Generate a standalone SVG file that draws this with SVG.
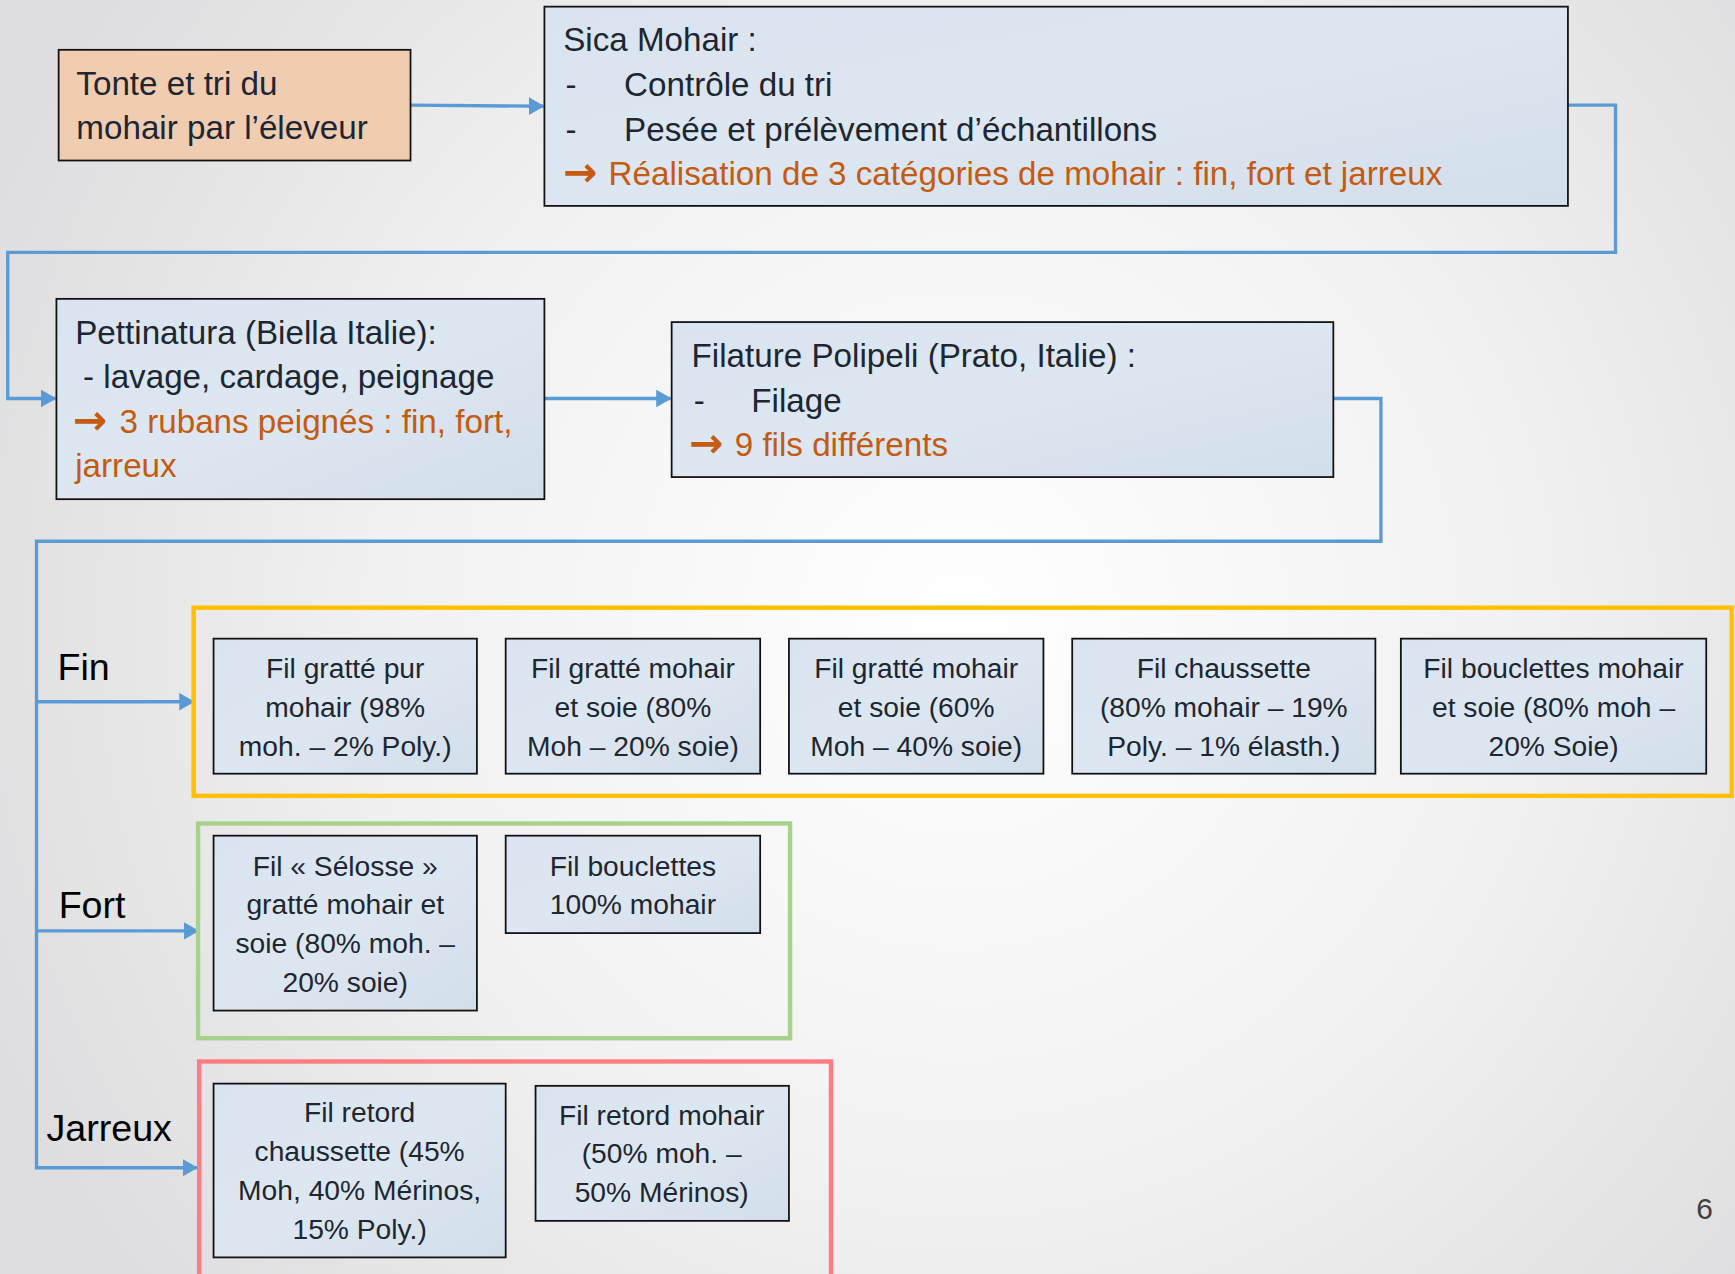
<svg xmlns="http://www.w3.org/2000/svg" width="1735" height="1274" viewBox="0 0 1735 1274">
<defs>
<radialGradient id="bg" gradientUnits="userSpaceOnUse" cx="960" cy="620" r="1050">
<stop offset="0" stop-color="#ffffff"/>
<stop offset="0.55" stop-color="#f1f1f1"/>
<stop offset="1" stop-color="#dedddf"/>
</radialGradient>
<linearGradient id="boxfill" x1="0" y1="0" x2="1" y2="1">
<stop offset="0" stop-color="#dae4f0"/>
<stop offset="0.5" stop-color="#dde7f2"/>
<stop offset="1" stop-color="#d2deea"/>
</linearGradient>
<marker id="ah" markerUnits="userSpaceOnUse" markerWidth="14" markerHeight="16" refX="13" refY="8" orient="auto">
<path d="M0,0 L14,8 L0,16 z" fill="#5b9bd5"/>
</marker>
</defs>
<style>
.box{fill:url(#boxfill);stroke:#111;stroke-width:1.6}
.peach{fill:#f0cdb1;stroke:#111;stroke-width:1.6}
.t{font-family:"Liberation Sans",Arial,sans-serif;font-size:30px;fill:#1e2631}
.o{font-family:"Liberation Sans",Arial,sans-serif;font-size:30px;fill:#c55a11}
.arr{font-family:"DejaVu Sans",sans-serif;font-weight:bold;font-size:37px;fill:#c55a11}
.s{font-family:"Liberation Sans",Arial,sans-serif;font-size:25.5px;fill:#1e2631;text-anchor:middle}
.lab{font-family:"Liberation Sans",Arial,sans-serif;font-size:34px;fill:#000}
.con{fill:none;stroke:#5b9bd5;stroke-width:3}
.frame{fill:none;stroke-width:4}
</style>
<rect x="0" y="0" width="1735" height="1274" fill="url(#bg)"/>
<g transform="scale(1.10651 1.10686)">

<g id="connectors">
<path class="con" d="M371,95 L491,96" stroke-width="4" marker-end="url(#ah)"/>
<path class="con" d="M1417,95 H1460 V228 H7 V360 H50" marker-end="url(#ah)"/>
<path class="con" d="M492,360 H606" marker-end="url(#ah)"/>
<path class="con" d="M1205,360 H1248 V489 H33 V1055 H178" marker-end="url(#ah)"/>
<path class="con" d="M33,634 H175" marker-end="url(#ah)"/>
<path class="con" d="M33,841 H179" marker-end="url(#ah)"/>
</g>

<g id="frames">
<rect class="frame" x="175" y="549" width="1390" height="170" stroke="#ffc000"/>
<rect class="frame" x="179" y="744" width="535" height="194" stroke="#a9d18e"/>
<rect class="frame" x="180" y="959" width="571" height="205" stroke="#ff7c80"/>
</g>

<g id="tonte">
<rect class="peach" x="53" y="45" width="318" height="100"/>
<text class="t" x="69" y="86">Tonte et tri du</text>
<text class="t" x="69" y="126">mohair par l’éleveur</text>
</g>

<g id="sica">
<rect class="box" x="492" y="6" width="925" height="180"/>
<text class="t" x="509" y="46">Sica Mohair :</text>
<text class="t" x="511" y="87">-</text>
<text class="t" x="564" y="87">Contrôle du tri</text>
<text class="t" x="511" y="127">-</text>
<text class="t" x="564" y="127">Pesée et prélèvement d’échantillons</text>
<text class="arr" x="509" y="168">→</text>
<text class="o" x="550" y="167">Réalisation de 3 catégories de mohair : fin, fort et jarreux</text>
</g>

<g id="pettinatura">
<rect class="box" x="51" y="270" width="441" height="181"/>
<text class="t" x="68" y="311">Pettinatura (Biella Italie):</text>
<text class="t" x="75" y="351">- lavage, cardage, peignage</text>
<text class="arr" x="66" y="392">→</text>
<text class="o" x="108" y="391">3 rubans peignés : fin, fort,</text>
<text class="o" x="68" y="431">jarreux</text>
</g>

<g id="filature">
<rect class="box" x="607" y="291" width="598" height="140"/>
<text class="t" x="625" y="332">Filature Polipeli (Prato, Italie) :</text>
<text class="t" x="627" y="372">-</text>
<text class="t" x="679" y="372">Filage</text>
<text class="arr" x="623" y="413">→</text>
<text class="o" x="664" y="412">9 fils différents</text>
</g>

<g id="labels">
<text class="lab" x="52" y="614">Fin</text>
<text class="lab" x="53" y="829">Fort</text>
<text class="lab" x="42" y="1031">Jarreux</text>
</g>

<g id="fin1">
<rect class="box" x="193" y="577" width="238" height="122"/>
<text class="s" x="312" y="613">Fil gratté pur</text>
<text class="s" x="312" y="648">mohair (98%</text>
<text class="s" x="312" y="683">moh. – 2% Poly.)</text>
</g>
<g id="fin2">
<rect class="box" x="457" y="577" width="230" height="122"/>
<text class="s" x="572" y="613">Fil gratté mohair</text>
<text class="s" x="572" y="648">et soie (80%</text>
<text class="s" x="572" y="683">Moh – 20% soie)</text>
</g>
<g id="fin3">
<rect class="box" x="713" y="577" width="230" height="122"/>
<text class="s" x="828" y="613">Fil gratté mohair</text>
<text class="s" x="828" y="648">et soie (60%</text>
<text class="s" x="828" y="683">Moh – 40% soie)</text>
</g>
<g id="fin4">
<rect class="box" x="969" y="577" width="274" height="122"/>
<text class="s" x="1106" y="613">Fil chaussette</text>
<text class="s" x="1106" y="648">(80% mohair – 19%</text>
<text class="s" x="1106" y="683">Poly. – 1% élasth.)</text>
</g>
<g id="fin5">
<rect class="box" x="1266" y="577" width="276" height="122"/>
<text class="s" x="1404" y="613">Fil bouclettes mohair</text>
<text class="s" x="1404" y="648">et soie (80% moh –</text>
<text class="s" x="1404" y="683">20% Soie)</text>
</g>

<g id="fort1">
<rect class="box" x="193" y="755" width="238" height="158"/>
<text class="s" x="312" y="791">Fil « Sélosse »</text>
<text class="s" x="312" y="826">gratté mohair et</text>
<text class="s" x="312" y="861">soie (80% moh. –</text>
<text class="s" x="312" y="896">20% soie)</text>
</g>
<g id="fort2">
<rect class="box" x="457" y="755" width="230" height="88"/>
<text class="s" x="572" y="791">Fil bouclettes</text>
<text class="s" x="572" y="826">100% mohair</text>
</g>

<g id="jarreux1">
<rect class="box" x="193" y="979" width="264" height="157"/>
<text class="s" x="325" y="1014">Fil retord</text>
<text class="s" x="325" y="1049">chaussette (45%</text>
<text class="s" x="325" y="1084">Moh, 40% Mérinos,</text>
<text class="s" x="325" y="1119">15% Poly.)</text>
</g>
<g id="jarreux2">
<rect class="box" x="484" y="981" width="229" height="122"/>
<text class="s" x="598" y="1016">Fil retord mohair</text>
<text class="s" x="598" y="1051">(50% moh. –</text>
<text class="s" x="598" y="1086">50% Mérinos)</text>
</g>

<text x="1533" y="1101" font-family="Liberation Sans, Arial, sans-serif" font-size="27" fill="#404040">6</text>
</g>
</svg>
